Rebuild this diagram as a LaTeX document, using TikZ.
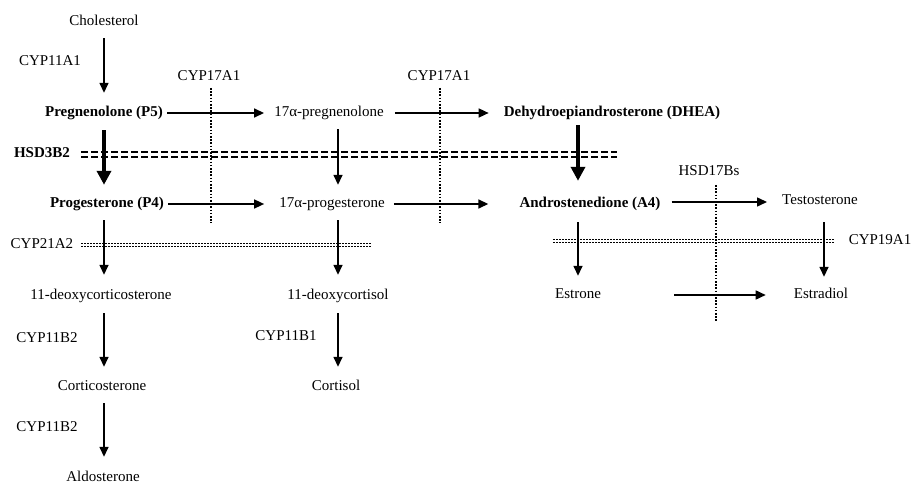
\documentclass[tikz,border=0pt]{standalone}
\usepackage{fontspec}
\setmainfont{Liberation Serif}
\usetikzlibrary{arrows.meta}
\begin{document}
\begin{tikzpicture}[x=1bp,y=-1bp,
  lbl/.style={font=\fontsize{15bp}{18bp}\selectfont, inner sep=0pt, text height=10.5bp, text depth=3.5bp},
  blbl/.style={lbl, font=\fontsize{15bp}{18bp}\selectfont\bfseries},
  arr/.style={line width=1.5bp, -{Triangle[length=10bp,width=9bp]}},
  tarr/.style={line width=4bp, -{Triangle[length=14bp,width=14bp]}},
  dotv/.style={line width=1.6bp, dash pattern=on 1.6bp off 1.6bp},
  dbldash/.style={double, double distance=2.6bp, line width=1.9bp, dash pattern=on 6.5bp off 3.5bp},
  dbldot/.style={double, double distance=2.2bp, line width=1bp, dash pattern=on 2bp off 1bp}
]
\fill[white] (0,0) rectangle (917,483);
\useasboundingbox (0,0) rectangle (917,483);

% nodes
\node[lbl]  (chol)     at (104,22)  {Cholesterol};
\node[lbl]  (cyp11a1)  at (50,62)   {CYP11A1};
\node[lbl]  (cyp17a)   at (209,77)  {CYP17A1};
\node[lbl]  (cyp17b)   at (439,77)  {CYP17A1};
\node[blbl] (p5)       at (104,113) {Pregnenolone (P5)};
\node[lbl]  (preg17)   at (329,113) {17α-pregnenolone};
\node[blbl] (dhea)     at (612,113) {Dehydroepiandrosterone (DHEA)};
\node[blbl] (hsd3b2)   at (42,154)  {HSD3B2};
\node[blbl] (p4)       at (107,204) {Progesterone (P4)};
\node[lbl]  (prog17)   at (332,204) {17α-progesterone};
\node[blbl] (a4)       at (590,204) {Androstenedione (A4)};
\node[lbl]  (hsd17)    at (709,172) {HSD17Bs};
\node[lbl]  (test)     at (820,201) {Testosterone};
\node[lbl]  (cyp21)    at (42,245)  {CYP21A2};
\node[lbl]  (cyp19)    at (880,241) {CYP19A1};
\node[lbl]  (doc)      at (101,296) {11-deoxycorticosterone};
\node[lbl]  (dcort)    at (338,296) {11-deoxycortisol};
\node[lbl]  (estrone)  at (578,295) {Estrone};
\node[lbl]  (estradiol) at (821,295) {Estradiol};
\node[lbl]  (cyp11b2a) at (47,339)  {CYP11B2};
\node[lbl]  (cyp11b1)  at (286,337) {CYP11B1};
\node[lbl]  (cortico)  at (102,387) {Corticosterone};
\node[lbl]  (cortisol) at (336,387) {Cortisol};
\node[lbl]  (cyp11b2b) at (47,428)  {CYP11B2};
\node[lbl]  (aldo)     at (103,478) {Aldosterone};

% enzyme block lines
\coordinate (hsdL) at (81,154.5);  \coordinate (hsdR) at (617,154.5);
\coordinate (c21L) at (81,245);    \coordinate (c21R) at (372,245);
\coordinate (c19L) at (553,241);   \coordinate (c19R) at (835,241);
\draw[dbldash] (hsdL) -- (hsdR);
\draw[dbldot] (c21L) -- (c21R);
\draw[dbldot] (c19L) -- (c19R);

\coordinate (v1t) at (211,88);  \coordinate (v1b) at (211,223);
\coordinate (v2t) at (440,88);  \coordinate (v2b) at (440,223);
\coordinate (v3t) at (716,185); \coordinate (v3b) at (716,321);
\draw[dotv] (v1t) -- (v1b);
\draw[dotv] (v2t) -- (v2b);
\draw[dotv] (v3t) -- (v3b);

% vertical arrows
\draw[arr, shorten <=9bp, shorten >=13bp] (chol.south) -- (p5.north -| chol);
\draw[tarr, shorten <=10bp, shorten >=12bp] (p5.south -| chol) -- (p4.north -| chol);
\draw[arr, shorten <=9bp, shorten >=12bp] (preg17.south -| dcort) -- (prog17.north -| dcort);
\draw[tarr, shorten <=5bp, shorten >=16bp] (dhea.south -| estrone) -- (a4.north -| estrone);
\draw[arr, shorten <=9bp, shorten >=14bp] (p4.south -| chol) -- (doc.north -| chol);
\draw[arr, shorten <=9bp, shorten >=14bp] (prog17.south -| dcort) -- (dcort.north);
\draw[arr, shorten <=11bp, shorten >=12bp] (a4.south -| estrone) -- (estrone.north);
\draw[arr, shorten <=14bp, shorten >=11bp] (test.south -| 824,0) -- (estradiol.north -| 824,0);
\draw[arr, shorten <=10bp, shorten >=13bp] (doc.south -| chol) -- (cortico.north -| chol);
\draw[arr, shorten <=10bp, shorten >=13bp] (dcort.south) -- (cortisol.north -| dcort);
\draw[arr, shorten <=9bp, shorten >=14bp] (cortico.south -| chol) -- (aldo.north -| chol);

% horizontal arrows
\draw[arr, shorten <=4bp, shorten >=10bp] (p5.east) -- (preg17.west |- p5);
\draw[arr, shorten <=11bp, shorten >=15bp] (preg17.east) -- (dhea.west |- preg17);
\draw[arr, shorten <=4bp, shorten >=15bp] (p4.east) -- (prog17.west |- p4);
\draw[arr, shorten <=9bp, shorten >=31bp] (prog17.east) -- (a4.west |- prog17);
\draw[arr, shorten <=11bp, shorten >=15bp] (a4.east |- 0,202) -- (test.west |- 0,202);
\draw[arr, shorten <=73bp, shorten >=28bp] (estrone.east) -- (estradiol.west |- estrone);
\end{tikzpicture}
\end{document}
